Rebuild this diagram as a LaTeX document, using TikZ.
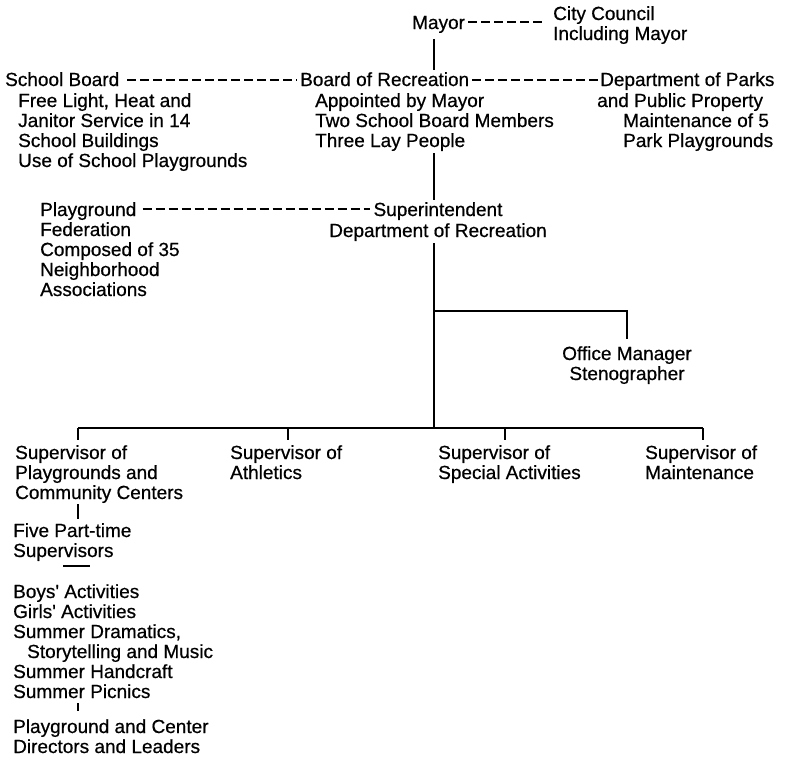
\documentclass[tikz,border=0pt]{standalone}
\usepackage{fontspec}
\setmainfont{Liberation Sans}[FakeBold=0.6]
\tikzset{
  lbl/.style={anchor=base west,inner sep=0pt,align=left,font=\fontsize{19}{20}\selectfont},
  clbl/.style={lbl,anchor=base,align=center},
  dashline/.style={line width=1.7pt,dash pattern=on 9pt off 4pt},
  orgline/.style={line width=1.7pt}
}
\begin{document}
\begin{tikzpicture}[x=1pt,y=-1pt]
\useasboundingbox (0,0) rectangle (799,756);
% top row (a node's base is its last line)
\path (412,29)node[lbl] (mayor) {Mayor};
\path (553,40)node[lbl] (council) {City Council\\Including Mayor};
\path (5,86)node[lbl] (school) {School Board};
\path (18,167)node[lbl] (schooltxt) {Free Light, Heat and\\Janitor Service in 14\\School Buildings\\Use of School Playgrounds};
\path (300,86)node[lbl] (board) {Board of Recreation};
\path (315,147)node[lbl] (boardtxt) {Appointed by Mayor\\Two School Board Members\\Three Lay People};
\path (600,86)node[lbl] (parks) {Department of Parks};
\path (597,147)node[lbl] (parkstxt) {and Public Property\\\hspace*{26pt}Maintenance of 5\\\hspace*{26pt}Park Playgrounds};
% middle
\path (40,216)node[lbl] (federation) {Playground};
\path (40,296)node[lbl] (fedtxt) {Federation\\Composed of 35\\Neighborhood\\Associations};
\path (438,216)node[clbl] (super) {Superintendent};
\path (438,237)node[clbl] (supertxt) {Department of Recreation};
\path (627,380)node[clbl] (office) {Office Manager\\Stenographer};
% supervisors
\path (15,499)node[lbl] (supA) {Supervisor of\\Playgrounds and\\Community Centers};
\path (230,479)node[lbl] (supB) {Supervisor of\\Athletics};
\path (438,479)node[lbl] (supC) {Supervisor of\\Special Activities};
\path (645,479)node[lbl] (supD) {Supervisor of\\Maintenance};
\path (13,557)node[lbl] (parttime) {Five Part-time\\Supervisors};
\path (13,698)node[lbl] (activities) {Boys\textquotesingle{} Activities\\Girls\textquotesingle{} Activities\\Summer Dramatics,\\\hspace*{14pt}Storytelling and Music\\Summer Handcraft\\Summer Picnics};
\path (13,753)node[lbl] (directors) {Playground and Center\\Directors and Leaders};
% dashed links
\coordinate (mayorR) at ([yshift=7pt]mayor.base east);
\draw[dashline,shorten <=3pt,shorten >=8pt] (mayorR) -- (mayorR -| council.west);
\coordinate (schoolR) at ([yshift=6pt]school.base east);
\draw[dashline,shorten <=8pt,shorten >=3pt] (schoolR) -- (schoolR -| board.west);
\coordinate (boardR) at ([yshift=6pt]board.base east);
\draw[dashline,shorten <=3pt,shorten >=2pt] (boardR) -- (boardR -| parks.west);
\coordinate (fedR) at ([yshift=7pt]federation.base east);
\draw[dashline,shorten <=6pt,shorten >=3pt] (fedR) -- (fedR -| super.west);
% solid lines
\coordinate (spine) at (434,0);
\coordinate (bus) at (0,428);
\coordinate (offJ) at (434,311);
\draw[orgline,shorten <=6pt,shorten >=2pt] (spine |- mayor.south) -- (spine |- board.north);
\draw[orgline,shorten <=2pt,shorten >=2pt] (spine |- boardtxt.south) -- (spine |- super.north);
\draw[orgline,shorten <=2pt] (spine |- supertxt.south) -- (spine |- bus);
\draw[orgline,shorten >=7pt] (offJ) -| (office.north);
\coordinate (dA) at ([xshift=63pt]supA.north west);
\coordinate (dB) at ([xshift=58pt]supB.north west);
\coordinate (dC) at ([xshift=67pt]supC.north west);
\coordinate (dD) at ([xshift=58pt]supD.north west);
\draw[orgline] (dA |- bus) -- (dD |- bus);
\foreach \d in {dA,dB,dC,dD}
  \draw[orgline,shorten >=5pt] (\d |- bus) -- (\d);
\draw[orgline,shorten <=1pt,shorten >=4pt] (dA |- supA.south) -- (dA |- parttime.north);
\draw[orgline] (63,566) -- (90,566);
\draw[orgline,shorten <=5pt,shorten >=8pt] (dA |- activities.south) -- (dA |- directors.north);
\end{tikzpicture}
\end{document}
